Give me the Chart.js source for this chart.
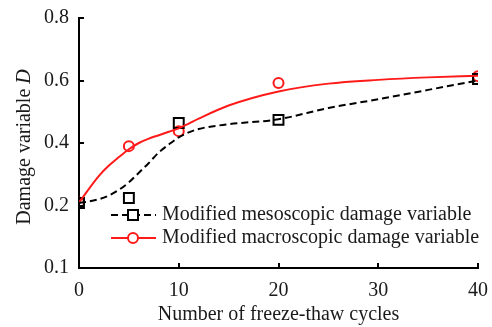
<!DOCTYPE html>
<html>
<head>
<meta charset="utf-8">
<script src="https://cdn.jsdelivr.net/npm/chart.js@4.4.1/dist/chart.umd.min.js"></script>
<style>
  html, body { margin: 0; padding: 0; background: #fff; }
  #wrap { width: 492px; height: 327px; }
</style>
</head>
<body>
<div id="wrap"><canvas id="myChart" width="492" height="327"></canvas></div>
<script>
// freeze-thaw cycles where samples were measured
let cycles = [0, 5, 10, 20, 40];
let mesoValues = [0.208, 0.224, 0.464, 0.474, 0.605];
let macroValues = [0.21, 0.39, 0.438, 0.592, 0.614];

// fitted curves
let fitCycles = [0, 2, 3, 4, 5, 6, 7, 8, 9, 10, 11, 12, 15, 20, 25, 30, 35, 40];
let mesoFit = [0.208, 0.22, 0.232, 0.25, 0.274, 0.305, 0.336, 0.37, 0.395, 0.418, 0.434, 0.445, 0.46, 0.476, 0.512, 0.54, 0.57, 0.60];
let macroFit = [0.21, 0.295, 0.328, 0.355, 0.38, 0.40, 0.414, 0.425, 0.436, 0.447, 0.462, 0.478, 0.52, 0.565, 0.59, 0.602, 0.61, 0.615];

let xTicks = [0, 10, 20, 30, 40];
let yTicks = [0, 0.2, 0.4, 0.6, 0.8];
let yTickLabels = ['0.1', '0.2', '0.4', '0.6', '0.8'];

let seriesNames = ['Modified mesoscopic damage variable', 'Modified macroscopic damage variable'];

const FONT = '"Liberation Serif", "Times New Roman", serif';
const FS = 20;
const RED = '#ff1a1a';

function pts(xs, ys) {
  return xs.map((x, i) => ({ x: x, y: ys[i] }));
}

// inside ticks, y title with italic D, and the legend
const decorations = {
  id: 'decorations',
  afterDraw(chart) {
    const c = chart.ctx;
    const xs = chart.scales.x, ys = chart.scales.y;
    const area = chart.chartArea;
    c.save();
    c.strokeStyle = '#000';
    c.lineWidth = 2;
    xTicks.slice(1).forEach(v => {
      const px = Math.round(xs.getPixelForValue(v));
      c.beginPath();
      c.moveTo(px, area.bottom);
      c.lineTo(px, area.bottom - 5);
      c.stroke();
    });
    yTicks.slice(1).forEach(v => {
      const py = Math.round(ys.getPixelForValue(v));
      c.beginPath();
      c.moveTo(area.left, py);
      c.lineTo(area.left + 5, py);
      c.stroke();
    });

    // y axis title
    c.fillStyle = '#1a1a1a';
    c.textBaseline = 'middle';
    const t1 = 'Damage variable ';
    c.font = FS + 'px ' + FONT;
    const w1 = c.measureText(t1).width;
    c.font = 'italic ' + FS + 'px ' + FONT;
    const w2 = c.measureText('D').width;
    c.translate(25, 147);
    c.rotate(-Math.PI / 2);
    let sx = -(w1 + w2) / 2;
    c.font = FS + 'px ' + FONT;
    c.textAlign = 'left';
    c.fillText(t1, sx, 0);
    c.font = 'italic ' + FS + 'px ' + FONT;
    c.fillText('D', sx + w1, 0);
    c.setTransform(1, 0, 0, 1, 0, 0);

    // legend
    const rows = [215, 238];
    const x0 = 111, x1 = 156, mx = 133;
    c.font = FS + 'px ' + FONT;
    c.textAlign = 'left';
    c.textBaseline = 'middle';

    c.strokeStyle = '#000';
    c.lineWidth = 2;
    c.setLineDash([7, 4]);
    c.beginPath();
    c.moveTo(x0, rows[0]);
    c.lineTo(x1, rows[0]);
    c.stroke();
    c.setLineDash([]);
    c.fillStyle = '#fff';
    c.fillRect(mx - 5, rows[0] - 5, 10, 10);
    c.strokeRect(mx - 5, rows[0] - 5, 10, 10);

    c.strokeStyle = RED;
    c.beginPath();
    c.moveTo(x0, rows[1]);
    c.lineTo(x1, rows[1]);
    c.stroke();
    c.beginPath();
    c.arc(mx, rows[1], 5, 0, Math.PI * 2);
    c.fill();
    c.stroke();

    c.fillStyle = '#1a1a1a';
    c.fillText(seriesNames[0], 162, rows[0]);
    c.fillText(seriesNames[1], 162, rows[1]);
    c.restore();
  }
};

const ctx = document.getElementById('myChart');

new Chart(ctx, {
  type: 'line',
  data: {
    datasets: [
      {
        label: seriesNames[0] + ' fit',
        data: pts(fitCycles, mesoFit),
        borderColor: '#000',
        borderWidth: 2,
        borderDash: [7, 4],
        pointRadius: 0,
        cubicInterpolationMode: 'monotone',
        fill: false
      },
      {
        label: seriesNames[1] + ' fit',
        data: pts(fitCycles, macroFit),
        borderColor: RED,
        borderWidth: 2,
        pointRadius: 0,
        cubicInterpolationMode: 'monotone',
        fill: false
      },
      {
        label: seriesNames[0],
        data: pts(cycles, mesoValues),
        showLine: false,
        pointStyle: 'rect',
        pointRadius: 7,
        pointBorderWidth: 2,
        pointBorderColor: '#000',
        pointBackgroundColor: 'rgba(0,0,0,0)'
      },
      {
        label: seriesNames[1],
        data: pts(cycles, macroValues),
        showLine: false,
        pointStyle: 'circle',
        pointRadius: 5,
        pointBorderWidth: 2,
        pointBorderColor: RED,
        pointBackgroundColor: 'rgba(0,0,0,0)'
      }
    ]
  },
  options: {
    responsive: false,
    animation: false,
    layout: { padding: { top: 18, right: 14, left: 0, bottom: 0 } },
    plugins: {
      legend: { display: false },
      tooltip: { enabled: false }
    },
    scales: {
      x: {
        type: 'linear',
        min: 0,
        max: 40,
        afterBuildTicks: s => { s.ticks = xTicks.map(v => ({ value: v })); },
        afterFit: s => { s.height = 59; },
        grid: { display: false },
        border: { display: true, color: '#000', width: 2 },
        ticks: { color: '#1a1a1a', font: { family: FONT, size: FS }, padding: 3, maxRotation: 0 },
        title: {
          display: true,
          text: 'Number of freeze-thaw cycles',
          color: '#1a1a1a',
          font: { family: FONT, size: FS },
          padding: { top: 0, bottom: 0 }
        }
      },
      y: {
        type: 'linear',
        min: 0,
        max: 0.8,
        afterBuildTicks: s => { s.ticks = yTicks.map(v => ({ value: v })); },
        afterFit: s => { s.width = 79; },
        grid: { display: false },
        border: { display: true, color: '#000', width: 2 },
        ticks: {
          color: '#1a1a1a',
          font: { family: FONT, size: FS },
          padding: 2,
          callback: (v, i) => yTickLabels[i]
        }
      }
    }
  },
  plugins: [decorations]
});
</script>
</body>
</html>
